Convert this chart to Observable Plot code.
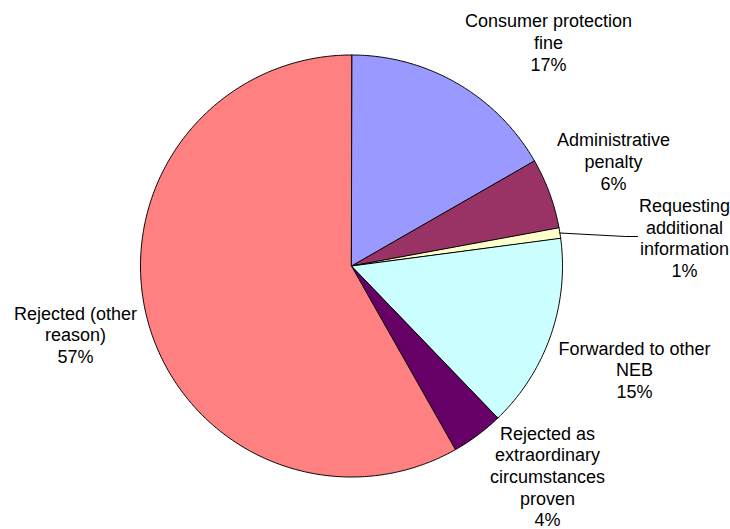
<!DOCTYPE html>
<html>
<head>
<meta charset="utf-8">
<script src="https://cdn.jsdelivr.net/npm/d3@7"></script>
<script src="https://cdn.jsdelivr.net/npm/@observablehq/plot@0.6"></script>
<style>
  html, body { margin: 0; padding: 0; background: #fff; }
  #chart svg { display: block; }
</style>
</head>
<body>
<div id="chart"></div>
<script>
// ---- data ----
const categories = [
  "Consumer protection fine",
  "Administrative penalty",
  "Requesting additional information",
  "Forwarded to other NEB",
  "Rejected as extraordinary circumstances proven",
  "Rejected (other reason)"
];
const values = [16.7, 5.4, 0.8, 14.9, 4.0, 58.2];
const percentLabels = ["17%", "6%", "1%", "15%", "4%", "57%"];
const labelLines = [
  ["Consumer protection", "fine"],
  ["Administrative", "penalty"],
  ["Requesting", "additional", "information"],
  ["Forwarded to other", "NEB"],
  ["Rejected as", "extraordinary", "circumstances", "proven"],
  ["Rejected (other", "reason)"]
];
const colors = ["#9999FF", "#993366", "#FFFFCC", "#CCFFFF", "#660066", "#FF8080"];

// ---- layout (pixels) ----
const W = 730, H = 529;
const cx = 351, cy = 265.5, R = 211;
const labelPos = [
  [548, 41.5], [613, 160.5], [684, 237], [634, 369], [547, 475.5], [75, 333.7]
];
const leaderTargets = {2: [[625, 236], [637, 236]]};

// ---- build slice polygons ----
const arcs = d3.pie().sort(null).value(d => d)(values);
const pts = [];
arcs.forEach((a, i) => {
  const cat = categories[i];
  pts.push({cat, x: cx, y: cy});
  const n = Math.max(2, Math.ceil((a.endAngle - a.startAngle) / (Math.PI / 360)));
  for (let k = 0; k <= n; k++) {
    const t = a.startAngle + (a.endAngle - a.startAngle) * k / n;
    pts.push({cat, x: cx + R * Math.sin(t), y: cy - R * Math.cos(t)});
  }
});

const leaders = [];
Object.entries(leaderTargets).forEach(([i, targets]) => {
  const a = arcs[+i];
  const m = (a.startAngle + a.endAngle) / 2;
  leaders.push({id: i, x: cx + R * Math.sin(m), y: cy - R * Math.cos(m)});
  targets.forEach(([x, y]) => leaders.push({id: i, x, y}));
});

const labels = categories.map((c, i) => ({
  text: labelLines[i].join("\n") + "\n" + percentLabels[i],
  x: labelPos[i][0], y: labelPos[i][1]
}));

const chart = Plot.plot({
  width: W, height: H,
  margin: 0,
  x: {domain: [0, W], range: [0, W], axis: null},
  y: {domain: [0, H], range: [0, H], axis: null},
  color: {domain: categories, range: colors},
  style: {fontFamily: "'Liberation Sans', Arial, sans-serif", background: "#fff"},
  marks: [
    Plot.line(pts, {x: "x", y: "y", z: "cat", fill: "cat", stroke: "#000", strokeWidth: 1, curve: "linear-closed", strokeLinejoin: "round"}),
    Plot.line(leaders, {x: "x", y: "y", z: "id", stroke: "#000", strokeWidth: 1}),
    Plot.text(labels, {x: "x", y: "y", text: "text", fontSize: 18, lineHeight: 1.2, fill: "#000", textAnchor: "middle"})
  ]
});
document.getElementById("chart").appendChild(chart);
</script>
</body>
</html>
